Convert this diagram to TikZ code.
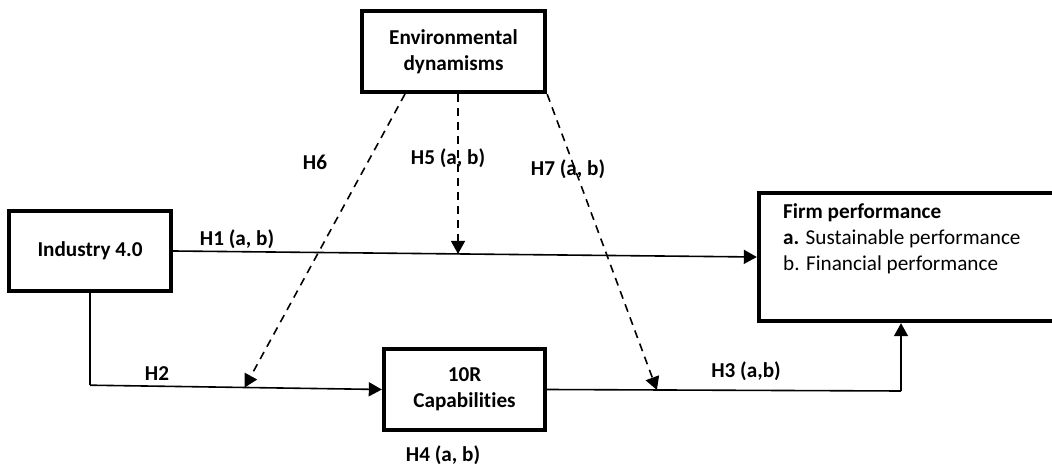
\documentclass[tikz,border=0pt]{standalone}
\usepackage{fontspec}
\setmainfont{Carlito}[Ligatures=NoCommon]
\usetikzlibrary{positioning, arrows.meta, calc}

\begin{document}
\begin{tikzpicture}[
  x=0.5pt, y=-0.5pt,
  cbox/.style={draw, line width=2.2pt, inner sep=2pt, align=center,
               font=\fontsize{10.6}{13.2}\selectfont\bfseries},
  hlbl/.style={font=\fontsize{10.6}{13.2}\selectfont\bfseries, inner sep=1pt},
  link/.style={line width=0.8pt, -{Triangle[length=6.5pt, width=7pt]}},
  mod/.style={link, dashed, dash pattern=on 4pt off 3pt},
]
  \clip (0,0) rectangle (1052,469);

  % Constructs
  \node[cbox, minimum width=91.5pt, minimum height=40.5pt] (env) at (453.5,51.5) {Environmental\\dynamisms};
  \node[cbox, minimum width=81pt, minimum height=40pt] (ind) at (90,251) {Industry 4.0};
  \node[cbox, minimum width=80.5pt, minimum height=40.5pt] (rcap) at (464.5,389.5) {10R\\Capabilities};
  \node[cbox, minimum width=160pt, minimum height=64pt] (firm) at (919,257) {};
  \node[hlbl, anchor=north west, align=left, font=\fontsize{10.6}{13.2}\selectfont]
    (firmtxt) at ([xshift=12pt, yshift=-5pt]firm.north west)
    {\textbf{Firm performance}\\\textbf{a.} Sustainable performance\\b. Financial performance};

  % Direct paths
  \draw[link] (ind.east) -- (firm.west);
  \draw[line width=0.8pt] (ind.south) -- ++(0,92) coordinate (h2c);
  \draw[link] (h2c) -- (rcap.west);
  \coordinate (h3c) at (901,391);
  \draw[line width=0.8pt] (rcap.east) -- (h3c);
  \draw[link] (h3c) -- (h3c |- firm.south);

  % Moderation paths
  \coordinate (h5e) at ($(ind.east)!0.488!(firm.west)$);
  \coordinate (h6s) at (405,94);
  \coordinate (h6e) at ($(h2c)!0.53!(rcap.west)$);
  \coordinate (h7e) at ($(rcap.east)!0.31!(h3c)$);
  \draw[mod] (env.south -| h5e) -- (h5e);
  \draw[mod] (h6s) -- (h6e);
  \draw[mod] (env.south east) -- (h7e);

  % Hypothesis labels
  \node[hlbl] (h1) at (237,239) {H1 (a, b)};
  \node[hlbl] (h2) at (157,374) {H2};
  \node[hlbl] (h3) at (746,371) {H3 (a,b)};
  \node[hlbl] (h4) at (443,455) {H4 (a, b)};
  \node[hlbl] (h5) at (448,158) {H5 (a, b)};
  \node[hlbl] (h6) at (315,162) {H6};
  \node[hlbl] (h7) at (568,169) {H7 (a, b)};
\end{tikzpicture}
\end{document}
